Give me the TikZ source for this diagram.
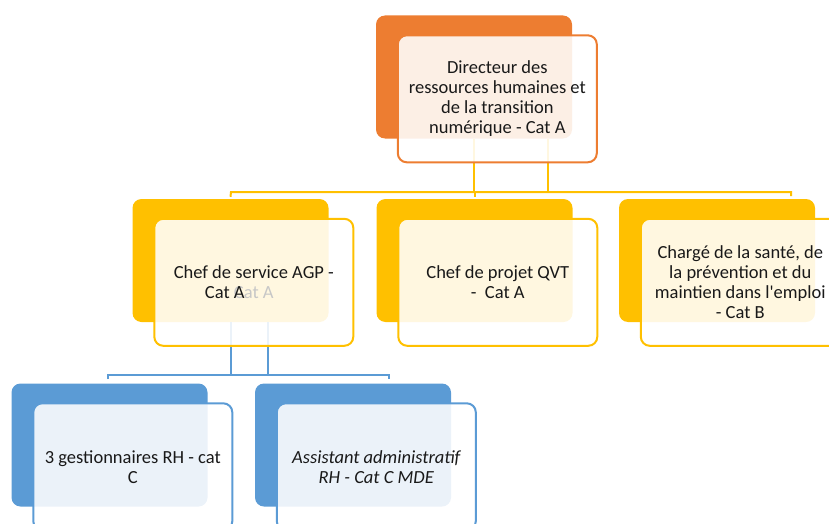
\documentclass[tikz,border=0pt]{standalone}
\usepackage{fontspec}
\setmainfont{Carlito}[Ligatures=TeXOff]
\usetikzlibrary{positioning}
\definecolor{rhorange}{HTML}{ED7D31}
\definecolor{rhgold}{HTML}{FFC000}
\definecolor{rhblue}{HTML}{5B9BD5}

\begin{document}
\begin{tikzpicture}[
    x=1pt, y=-1pt,
    back/.style={rounded corners=9pt, minimum width=196pt, minimum height=123pt, inner sep=0pt},
    front/.style={draw, line width=2pt, rounded corners=9pt, fill=white, fill opacity=0.88, text opacity=1,
      minimum width=199pt, minimum height=127pt, inner sep=0pt, align=center, text=black!90,
      font=\fontsize{18.5}{20}\selectfont, below right=19pt and 21pt of #1},
    link/.style={line width=2pt},
    ghost/.style={font=\fontsize{18.5}{20}\selectfont, inner sep=0pt}
]
  \clip (0,0) rectangle (829,524);

  % back plates
  \node[back, fill=rhorange] (dirB) at (474,77) {};
  \node[back, fill=rhgold] (agpB) at (230.5,260.5) {};
  \node[back, fill=rhgold] (qvtB) at (474.5,260.5) {};
  \node[back, fill=rhgold] (santeB) at (717,260.5) {};
  \node[back, fill=rhblue] (gestB) at (109.5,445) {};
  \node[back, fill=rhblue] (assistB) at (353,445) {};

  % bus coordinates
  \coordinate (topL) at (231,192);
  \coordinate (topR) at (791,192);
  \coordinate (dirJ) at (548,192);
  \coordinate (botL) at (108,375);
  \coordinate (botR) at (389,375);
  \coordinate (agpJ) at (268,375);

  % connectors (under the front boxes)
  \draw[link, rhgold] (dirB.south) -- (dirB.south |- topL);
  \draw[link, rhgold] (dirB.south -| dirJ) -- (dirJ);
  \draw[link, rhgold] ([yshift=2pt]agpB.north) -- (topL) -- (topR) -- ([yshift=-4pt]topR);
  \draw[link, rhgold] (qvtB.north |- topL) -- ([yshift=2pt]qvtB.north);
  \draw[link, rhblue] (agpB.south) -- (agpB.south |- botL);
  \draw[link, rhblue] (agpB.south -| agpJ) -- (agpJ);
  \draw[link, rhblue] ([yshift=-4pt]botL) -- (botL) -- (botR) -- ([yshift=-4pt]botR);

  % front boxes
  \node[front=dirB.north west, draw=rhorange] (dir) {Directeur des\\ressources humaines et\\de la transition\\numérique - Cat A};
  \node[front=agpB.north west, draw=rhgold] (agp) {Chef de service AGP -\\\textcolor{black!22}{Cat A}};
  \node[ghost, text=black!90] (agpCat) at ([xshift=-29pt, yshift=-10pt]agp.center) {Cat A};
  \node[front=qvtB.north west, draw=rhgold] (qvt) {Chef de projet QVT\\-\ \ Cat A};
  \node[front=santeB.north west, draw=rhgold] (sante) {Chargé de la santé, de\\la prévention et du\\maintien dans l'emploi\\- Cat B};
  \node[front=gestB.north west, draw=rhblue] (gest) {3 gestionnaires RH - cat\\C};
  \node[front=assistB.north west, draw=rhblue] (assist) {\itshape Assistant administratif\\\itshape RH - Cat C MDE};
\end{tikzpicture}
\end{document}
